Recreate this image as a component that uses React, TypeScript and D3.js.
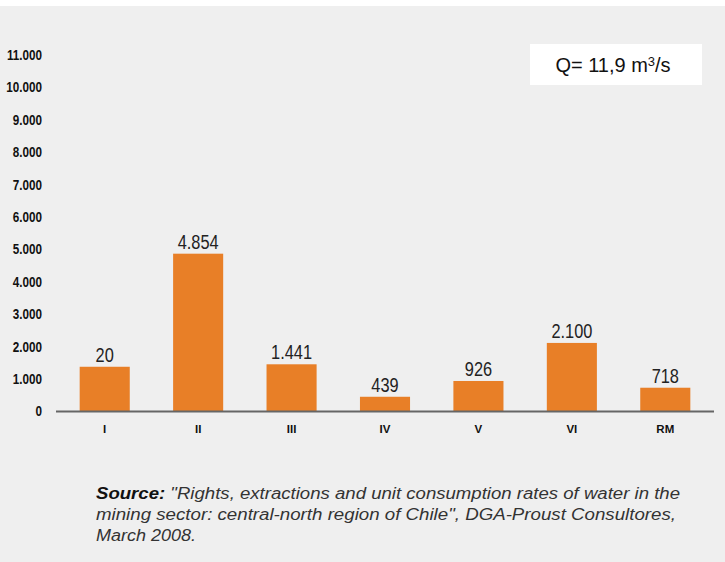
import React from "react";
import * as d3 from "d3";

const categories = ["I", "II", "III", "IV", "V", "VI", "RM"];
const barValues = [1365, 4854, 1441, 439, 926, 2100, 718];
const barLabels = ["20", "4.854", "1.441", "439", "926", "2.100", "718"];
const yTicks = [0, 1000, 2000, 3000, 4000, 5000, 6000, 7000, 8000, 9000, 10000, 11000];
const sourceLines = [
  "\"Rights, extractions and unit consumption rates of water in the",
  "mining sector: central-north region of Chile\", DGA-Proust Consultores,",
  "March 2008.",
];

const W = 725;
const H = 562;

const locale = d3.formatLocale({ decimal: ",", thousands: ".", grouping: [3], currency: ["", ""] });
const fmt = locale.format(",");

export default function App() {
  const x = d3
    .scaleBand<string>()
    .domain(categories)
    .range([58, 712])
    .paddingInner(0.464)
    .paddingOuter(0.232);
  const y = d3.scaleLinear().domain([0, 11000]).range([411, 54.5]);

  const sans = "'Liberation Sans', Arial, sans-serif";

  return (
    <svg
      width={W}
      height={H}
      style={{ position: "absolute", left: 0, top: 0, display: "block" }}
    >
      <rect x={0} y={0} width={W} height={H} fill="#ffffff" />
      <rect x={0} y={6} width={W} height={H - 6} fill="#efefef" />

      {/* Q box */}
      <rect x={530} y={44} width={172} height={41} fill="#ffffff" />
      <text
        x={613}
        y={72}
        textAnchor="middle"
        fontFamily={sans}
        fontSize={20}
        fill="#111"
      >
        Q= 11,9 m<tspan fontSize={13} dy={-6}>3</tspan>
        <tspan dy={6}>/s</tspan>
      </text>

      {/* y tick labels */}
      {yTicks.map((t) => (
        <text
          key={t}
          transform={`translate(42,${y(t)}) scale(0.78,1)`}
          dy="0.36em"
          textAnchor="end"
          fontFamily={sans}
          fontWeight="bold"
          fontSize={15}
          fill="#111"
        >
          {fmt(t)}
        </text>
      ))}

      {/* bars */}
      {categories.map((c, i) => (
        <rect
          key={c}
          x={x(c)}
          y={y(barValues[i])}
          width={x.bandwidth()}
          height={y(0) - y(barValues[i])}
          fill="#e87f27"
        />
      ))}

      {/* axis line */}
      <line x1={56} x2={714} y1={411.5} y2={411.5} stroke="#666" strokeWidth={2} />

      {/* value labels */}
      {categories.map((c, i) => (
        <text
          key={c}
          transform={`translate(${(x(c) as number) + x.bandwidth() / 2},${y(barValues[i]) - 5}) scale(0.84,1)`}
          textAnchor="middle"
          fontFamily={sans}
          fontSize={19.5}
          fill="#222"
        >
          {barLabels[i]}
        </text>
      ))}

      {/* category labels */}
      {categories.map((c) => (
        <text
          key={c}
          x={(x(c) as number) + x.bandwidth() / 2}
          y={433}
          textAnchor="middle"
          fontFamily={sans}
          fontWeight="bold"
          fontSize={11.5}
          fill="#111"
        >
          {c}
        </text>
      ))}

      {/* source */}
      <g fontFamily={sans} fontStyle="italic" fontSize={16} fill="#333">
        <text x={96} y={499} textLength={584} lengthAdjust="spacingAndGlyphs">
          <tspan fontWeight="bold" fill="#111">Source:</tspan> {sourceLines[0]}
        </text>
        <text x={96} y={520} textLength={580} lengthAdjust="spacingAndGlyphs">
          {sourceLines[1]}
        </text>
        <text x={96} y={541} textLength={100} lengthAdjust="spacingAndGlyphs">
          {sourceLines[2]}
        </text>
      </g>
    </svg>
  );
}
